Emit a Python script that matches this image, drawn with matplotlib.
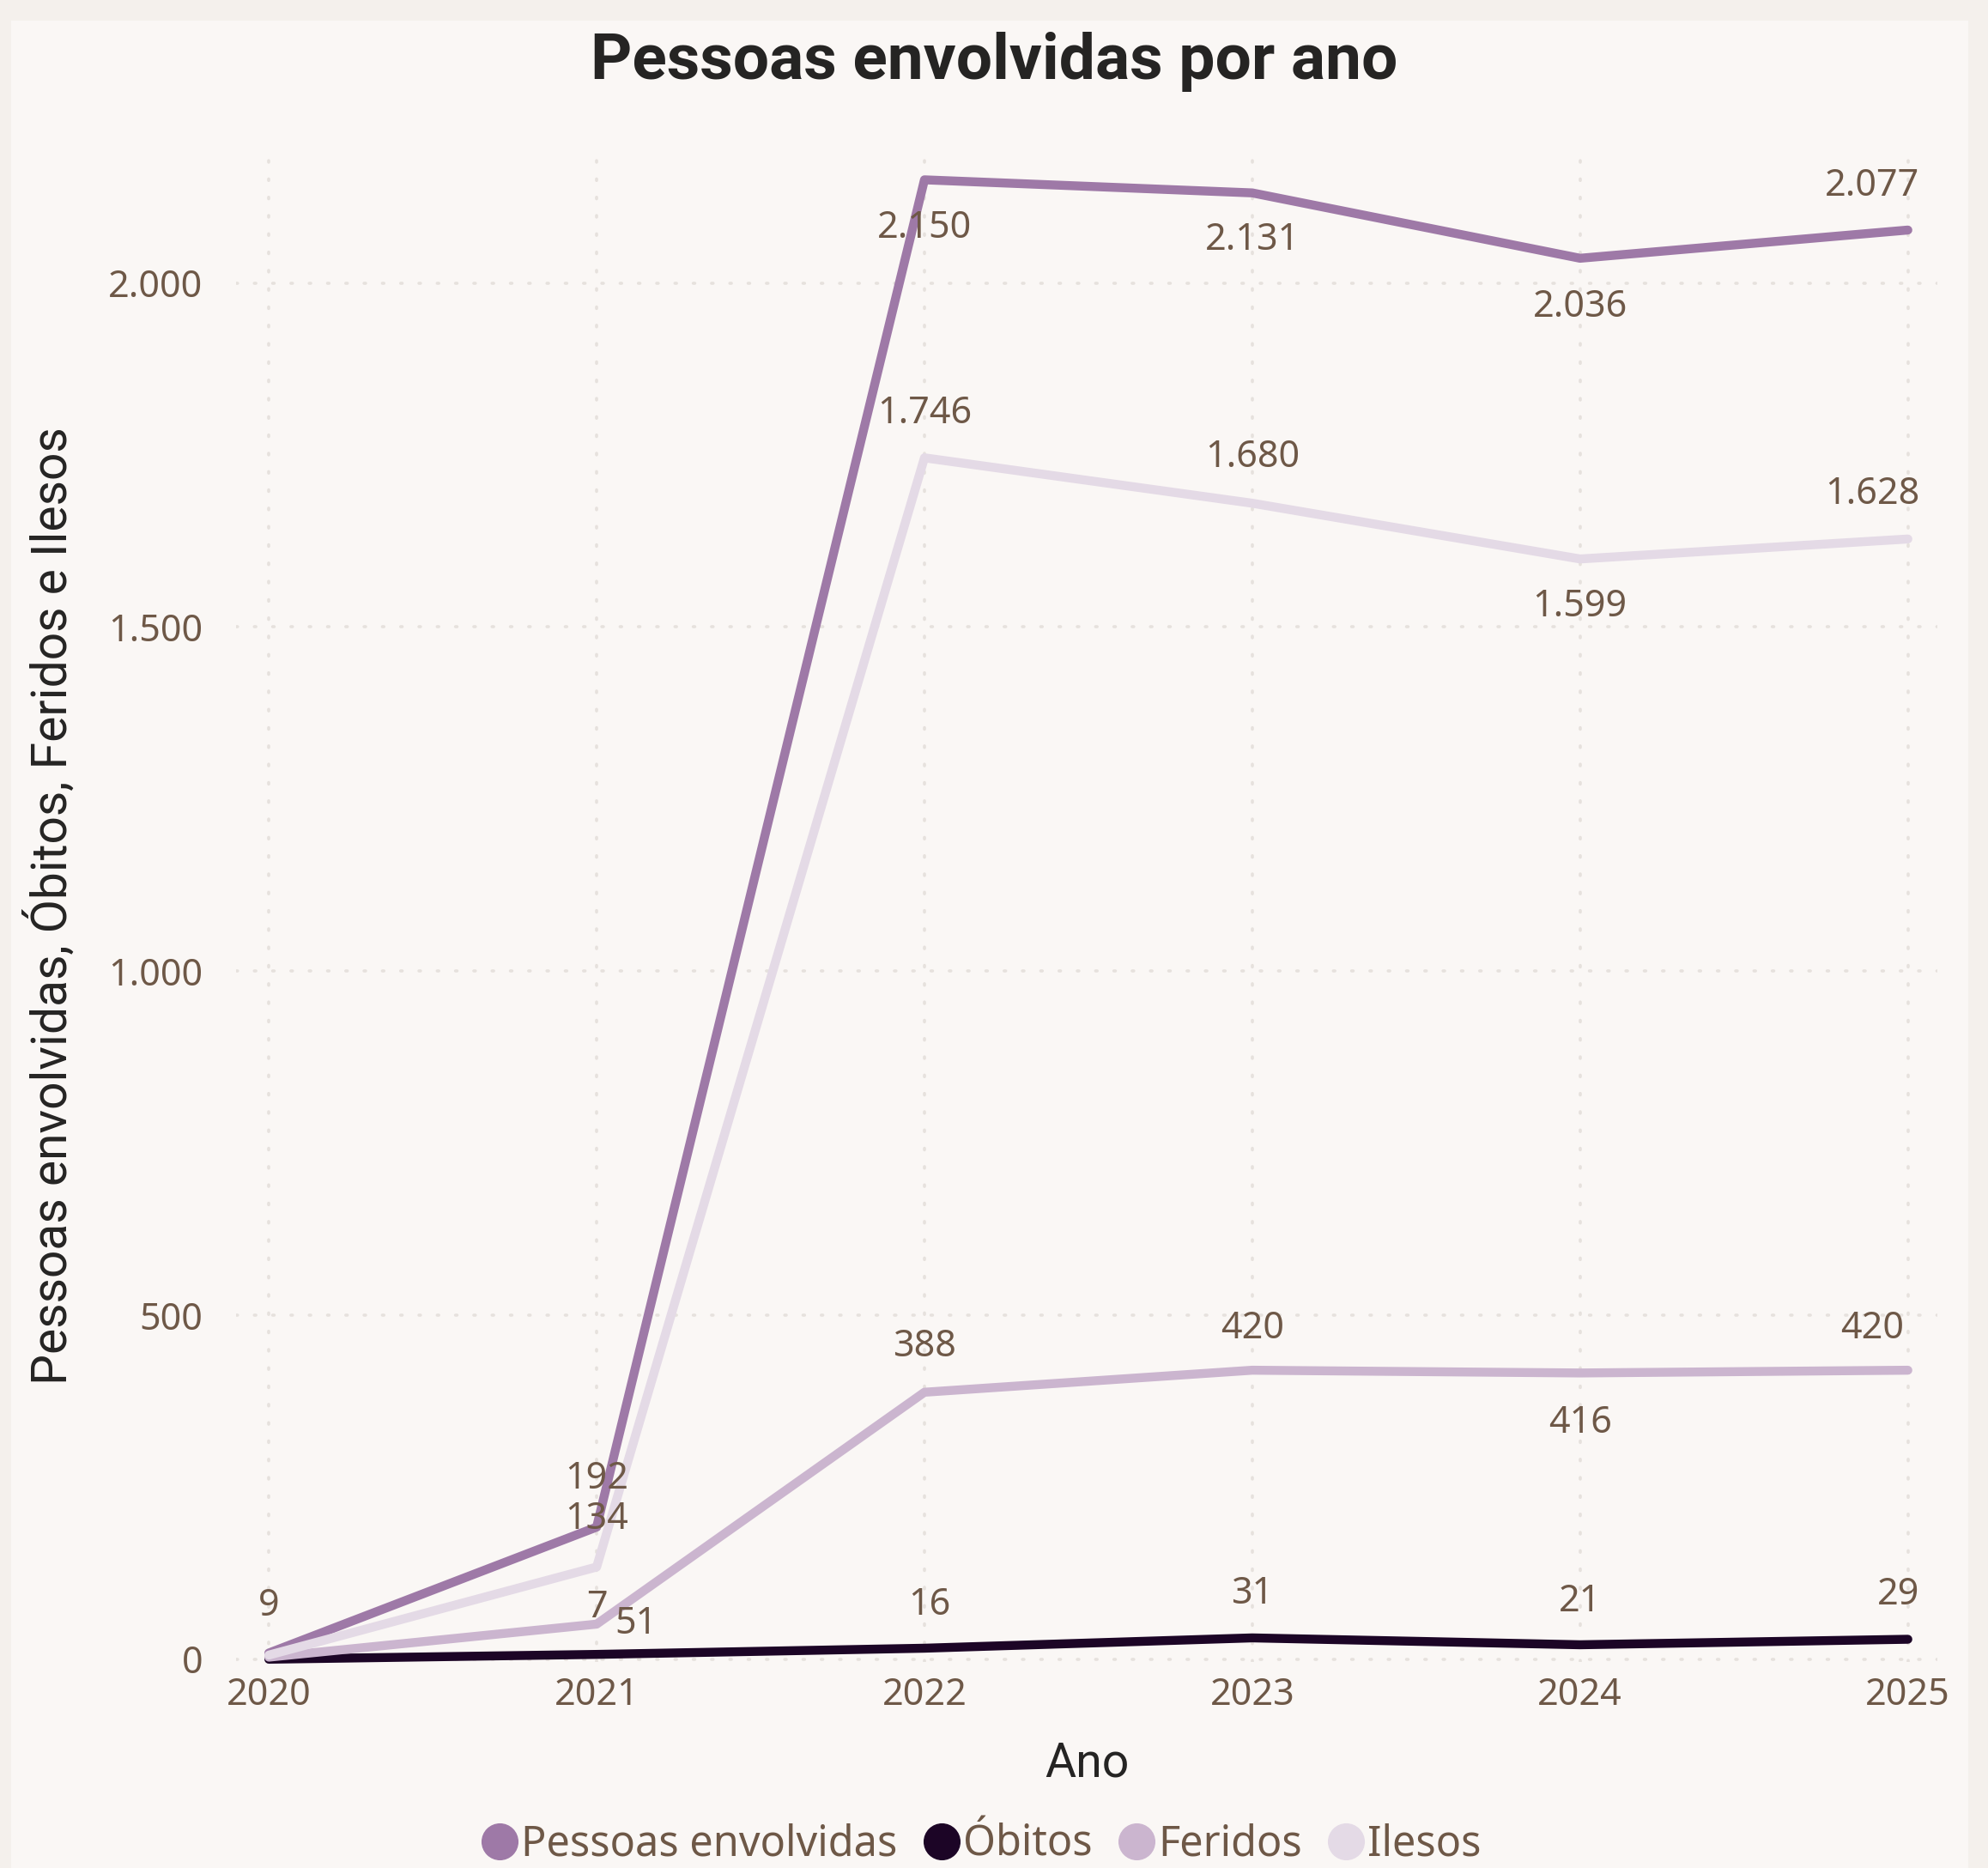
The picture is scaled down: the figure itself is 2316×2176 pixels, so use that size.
import matplotlib
matplotlib.use('Agg')
import matplotlib.pyplot as plt
from matplotlib.patches import Rectangle
from matplotlib.ticker import FuncFormatter

# Data -----------------------------------------------------------------------
anos = [2020, 2021, 2022, 2023, 2024, 2025]
pessoas = [9, 192, 2150, 2131, 2036, 2077]
obitos = [0, 7, 16, 31, 21, 29]
feridos = [3, 51, 388, 420, 416, 420]
ilesos = [6, 134, 1746, 1680, 1599, 1628]

# Style ----------------------------------------------------------------------
bg = '#FAF7F5'
border = '#F4F0EC'
txt_col = '#6E5847'
dark = '#252423'
grid_col = '#E6E1DD'

label_font = 'Noto Sans'
title_font = 'Roboto'

series = [
    ('Pessoas envolvidas', pessoas, '#9E79A7'),
    ('Óbitos', obitos, '#1C0526'),
    ('Feridos', feridos, '#CBB5CF'),
    ('Ilesos', ilesos, '#E4DAE6'),
]

# data-label offsets (points) for each series/year, None = hidden
offsets = {
    'Pessoas envolvidas': [(0, 39), (0, 40), (0, -41), (0, -40), (0, -41), (-30, 37)],
    'Óbitos': [None, (0, 39), (4, 36), (0, 37), (0, 36), (-8, 37)],
    'Feridos': [None, (33, 0), (0, 38), (0, 35), (0, -42), (-30, 35)],
    'Ilesos': [None, (0, 40), (0, 37), (0, 38), (0, -40), (-30, 37)],
}

fig = plt.figure(figsize=(23.16, 21.76), dpi=100)
fig.patch.set_facecolor(border)
fig.patches.append(Rectangle((13 / 2316, 0), (2293 - 13) / 2316, 1 - 24 / 2176,
                             transform=fig.transFigure, facecolor=bg,
                             edgecolor='none', zorder=-10))

ax = fig.add_axes([275 / 2316, 1 - 1936 / 2176, (2257 - 275) / 2316, (1936 - 175) / 2176])
ax.set_facecolor('none')

for name, vals, col in series:
    ax.plot(anos, vals, color=col, lw=7.5, solid_capstyle='round',
            solid_joinstyle='round', clip_on=False, label=name, zorder=3)

fmt = lambda v: '{:,}'.format(int(v)).replace(',', '.')

for name, vals, col in series:
    for x, y, off in zip(anos, vals, offsets[name]):
        if off is None:
            continue
        ax.annotate(fmt(y), (x, y), xytext=off, textcoords='offset points',
                    ha='center', va='center', fontsize=31, color=txt_col,
                    family=label_font, zorder=4)

ax.set_xlim(2019.9, 2025.09)
ax.set_ylim(-4, 2193)
ax.set_xticks(anos)
ax.set_yticks([0, 500, 1000, 1500, 2000])
ax.yaxis.set_major_formatter(FuncFormatter(lambda v, p: fmt(v)))

for s in ['bottom', 'left', 'top', 'right']:
    ax.spines[s].set_visible(False)
ax.tick_params(length=0, labelsize=31, labelcolor=txt_col)
ax.tick_params(axis='y', pad=28)
ax.tick_params(axis='x', pad=12)
for t in ax.get_xticklabels() + ax.get_yticklabels():
    t.set_family(label_font)

ax.grid(True, color=grid_col, linestyle=(0, (0.5, 5.4)), linewidth=2.6,
        dash_capstyle='round')
ax.set_axisbelow(True)

ax.set_xlabel('Ano', fontsize=40, color=dark, family=title_font, labelpad=22)
ax.set_ylabel('Pessoas envolvidas, Óbitos, Feridos e Ilesos', fontsize=41,
              color=dark, family=title_font, labelpad=26)

fig.text(0.5, 1 - 72 / 2176, 'Pessoas envolvidas por ano', ha='center',
         va='center', fontsize=54, fontweight='bold', color=dark,
         family=title_font)

handles, labels = ax.get_legend_handles_labels()
leg = fig.legend(handles, labels, loc='center',
                 bbox_to_anchor=(0.495, 1 - 2149 / 2176),
                 ncol=4, frameon=False, handlelength=0.6,
                 handletextpad=0.22, columnspacing=0.75,
                 prop={'family': label_font, 'size': 35})
for h in leg.legend_handles:
    h.set_linestyle('none')
    h.set_marker('o')
    h.set_markersize(30)
for t in leg.get_texts():
    t.set_color(txt_col)

plt.savefig('out.png', dpi=100, facecolor=fig.get_facecolor())
